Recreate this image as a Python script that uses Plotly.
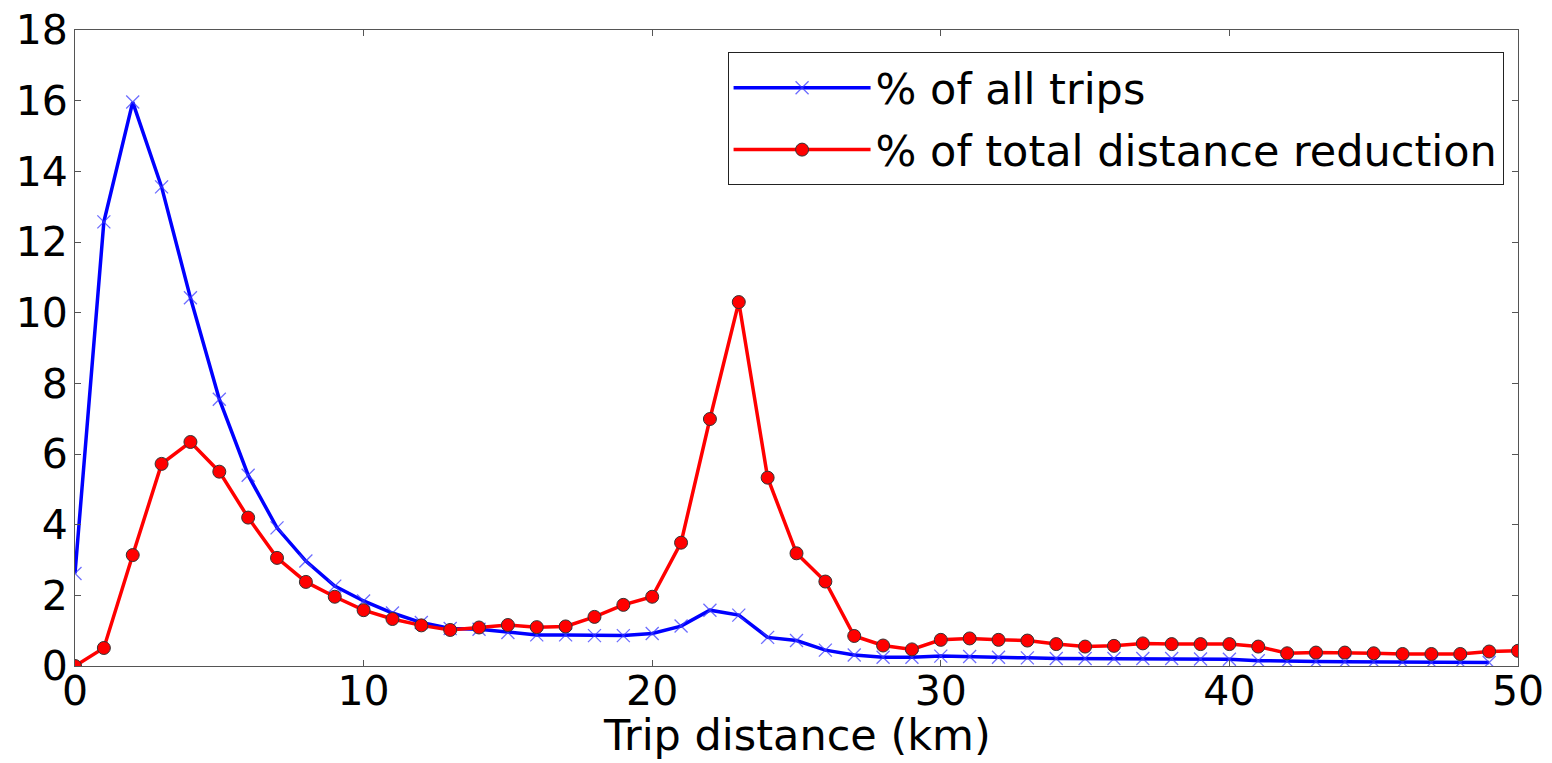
import plotly.graph_objects as go

distance_km = list(range(0, 51))

pct_all_trips = [2.62, 12.57, 15.96, 13.56, 10.42, 7.55, 5.40, 3.91, 2.97, 2.26,
                 1.84, 1.50, 1.23, 1.06, 1.04, 0.95, 0.88, 0.88, 0.86, 0.86,
                 0.92, 1.13, 1.58, 1.44, 0.81, 0.72, 0.45, 0.31, 0.25, 0.25,
                 0.28, 0.27, 0.25, 0.23, 0.21, 0.21, 0.21, 0.21, 0.21, 0.20,
                 0.19, 0.15, 0.13, 0.13, 0.12, 0.12, 0.11, 0.10, 0.10, 0.10]

pct_distance_reduction = [0.00, 0.51, 3.14, 5.72, 6.34, 5.50, 4.20, 3.06, 2.38, 1.96,
                          1.58, 1.33, 1.15, 1.02, 1.09, 1.16, 1.10, 1.12, 1.39, 1.73,
                          1.96, 3.49, 6.99, 10.30, 5.33, 3.19, 2.39, 0.85, 0.58, 0.47,
                          0.74, 0.78, 0.74, 0.72, 0.62, 0.55, 0.57, 0.64, 0.62, 0.62,
                          0.62, 0.55, 0.36, 0.38, 0.38, 0.36, 0.34, 0.34, 0.34, 0.41,
                          0.43]

series_names = ["% of all trips", "% of total distance reduction"]
x_title = "Trip distance (km)"
x_ticks = [0, 10, 20, 30, 40, 50]
y_ticks = [0, 2, 4, 6, 8, 10, 12, 14, 16, 18]

FONT = "DejaVu Sans"

fig = go.Figure()
fig.add_trace(go.Scatter(
    x=distance_km[:len(pct_all_trips)], y=pct_all_trips, name=series_names[0],
    mode="lines+markers",
    line=dict(color="#0000ff", width=3.5),
    marker=dict(symbol="x-thin", size=13, line=dict(color="rgba(60,60,255,0.75)", width=1.3)),
    legendgroup="a",
))
fig.add_trace(go.Scatter(
    x=distance_km[:len(pct_distance_reduction)], y=pct_distance_reduction, name=series_names[1],
    mode="lines+markers",
    line=dict(color="#ff0000", width=3.5),
    marker=dict(symbol="circle", size=13, color="#ff0000", line=dict(color="#333333", width=1)),
    legendgroup="b",
))

axis_common = dict(
    showgrid=False, zeroline=False, showline=True, linecolor="#555555", linewidth=1,
    mirror="ticks", ticks="inside", ticklen=6, tickwidth=1, tickcolor="#555555",
    tickfont=dict(family=FONT, size=41, color="black"), automargin=False,
    ticklabeloverflow="allow",
)

fig.update_xaxes(range=[0, 50], tickvals=x_ticks, ticktext=[str(v) for v in x_ticks],
                 ticklabelstandoff=-11, **axis_common)
fig.update_yaxes(range=[0, 18], tickvals=y_ticks, ticktext=[str(v) for v in y_ticks],
                 ticklabelstandoff=-2, **axis_common)

fig.add_annotation(text=x_title, xref="paper", yref="paper", x=0.5, y=-0.1085,
                   xanchor="center", yanchor="middle", showarrow=False,
                   font=dict(family=FONT, size=43, color="black"))

fig.update_layout(
    width=1544, height=755,
    margin=dict(l=67, r=34, t=22, b=97),
    plot_bgcolor="white", paper_bgcolor="white",
    font=dict(family=FONT, color="black"),
    showlegend=True,
    legend=dict(x=0.99, y=0.965, xanchor="right", yanchor="top",
                bordercolor="#222222", borderwidth=1, bgcolor="white",
                font=dict(family=FONT, size=43, color="black"),
                tracegroupgap=3, itemwidth=137),
)

fig.write_html("out.html")
